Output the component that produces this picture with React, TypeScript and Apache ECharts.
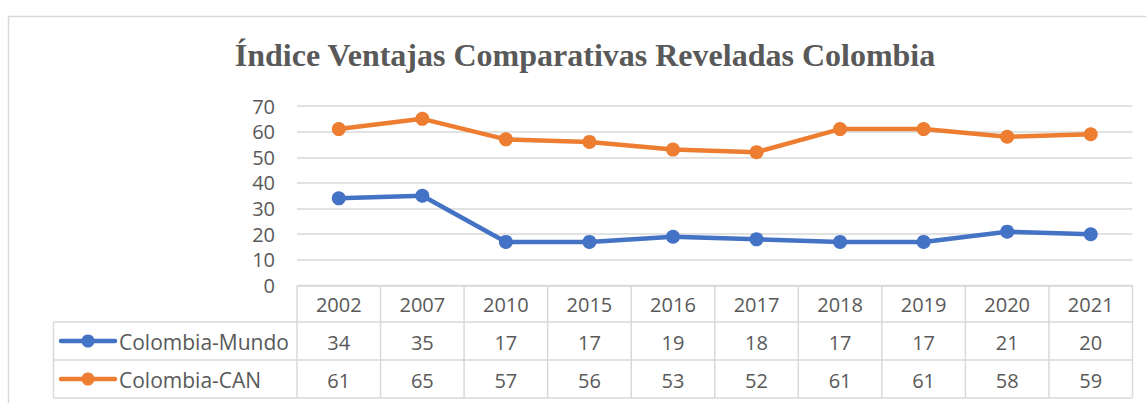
import React, { useEffect, useRef } from "react";
import * as echarts from "echarts";

const years = ["2002", "2007", "2010", "2015", "2016", "2017", "2018", "2019", "2020", "2021"];
const mundo = [34, 35, 17, 17, 19, 18, 17, 17, 21, 20];
const can = [61, 65, 57, 56, 53, 52, 61, 61, 58, 59];
const seriesNames = ["Colombia-Mundo", "Colombia-CAN"];
const seriesColors = ["#4472C4", "#ED7D31"];
const title = "Índice Ventajas Comparativas Reveladas Colombia";

const W = 1146;
const H = 403;
const GRID_L = 297;
const GRID_R = 1132.5;
const GRID_T = 106;
const GRID_B = 285.5;
const ROW_Y = [285.5, 322, 360, 398];
const LEG_L = 53.5;
const TXT = "#595959";
const BORDER = "#D9D9D9";
const FONT = "'Open Sans', 'Noto Sans', sans-serif";
const FS = 20;

function buildTable(): any[] {
  const els: any[] = [];
  const cw = (GRID_R - GRID_L) / years.length;
  els.push({ type: "line", shape: { x1: GRID_L, y1: ROW_Y[0], x2: GRID_R, y2: ROW_Y[0] }, style: { stroke: BORDER, lineWidth: 1.5 } });
  for (let r = 1; r < ROW_Y.length; r++) {
    els.push({ type: "line", shape: { x1: LEG_L, y1: ROW_Y[r], x2: GRID_R, y2: ROW_Y[r] }, style: { stroke: BORDER, lineWidth: 1.5 } });
  }
  els.push({ type: "line", shape: { x1: LEG_L, y1: ROW_Y[1], x2: LEG_L, y2: ROW_Y[3] }, style: { stroke: BORDER, lineWidth: 1.5 } });
  for (let k = 0; k <= years.length; k++) {
    const x = GRID_L + k * cw;
    els.push({ type: "line", shape: { x1: x, y1: ROW_Y[0], x2: x, y2: ROW_Y[3] }, style: { stroke: BORDER, lineWidth: 1.5 } });
  }
  const rows = [years, mundo.map(String), can.map(String)];
  rows.forEach((row, r) => {
    const cy = (ROW_Y[r] + ROW_Y[r + 1]) / 2 + 1;
    row.forEach((v, k) => {
      els.push({
        type: "text",
        x: GRID_L + (k + 0.5) * cw,
        y: cy,
        style: { text: v, fill: TXT, font: `${FS}px ${FONT}`, textAlign: "center", textVerticalAlign: "middle" },
      });
    });
  });
  seriesNames.forEach((name, i) => {
    const cy = (ROW_Y[i + 1] + ROW_Y[i + 2]) / 2;
    els.push({ type: "line", shape: { x1: 61, y1: cy, x2: 115, y2: cy }, style: { stroke: seriesColors[i], lineWidth: 4.5, lineCap: "round" } });
    els.push({ type: "circle", shape: { cx: 88, cy, r: 6.5 }, style: { fill: seriesColors[i] } });
    els.push({
      type: "text",
      x: 119,
      y: cy + 1,
      style: { text: name, fill: TXT, font: `21px ${FONT}`, textAlign: "left", textVerticalAlign: "middle" },
    });
  });
  return els;
}

export default function App() {
  const ref = useRef<HTMLDivElement>(null);
  useEffect(() => {
    if (!ref.current) return;
    const chart = echarts.init(ref.current, null, { renderer: "svg" });
    chart.setOption({
      animation: false,
      backgroundColor: "#ffffff",
      grid: { left: GRID_L, right: W - GRID_R, top: GRID_T, bottom: H - GRID_B, containLabel: false },
      xAxis: {
        type: "category",
        data: years,
        boundaryGap: true,
        axisLine: { show: false },
        axisTick: { show: false },
        axisLabel: { show: false },
      },
      yAxis: {
        type: "value",
        min: 0,
        max: 70,
        interval: 10,
        axisLine: { show: false },
        axisTick: { show: false },
        axisLabel: { color: TXT, fontSize: FS, fontFamily: FONT, margin: 22 },
        splitLine: { lineStyle: { color: BORDER, width: 1.5 } },
      },
      series: [
        {
          name: seriesNames[0],
          type: "line",
          data: mundo,
          symbol: "circle",
          symbolSize: 14,
          itemStyle: { color: seriesColors[0] },
          lineStyle: { color: seriesColors[0], width: 4.5 },
        },
        {
          name: seriesNames[1],
          type: "line",
          data: can,
          symbol: "circle",
          symbolSize: 14,
          itemStyle: { color: seriesColors[1] },
          lineStyle: { color: seriesColors[1], width: 4.5 },
        },
      ],
      graphic: [
        { type: "rect", shape: { x: 8.5, y: 16.5, width: 1160, height: 420 }, style: { fill: "none", stroke: BORDER, lineWidth: 1.5 }, silent: true, z: -1 },
        {
          type: "text",
          x: 585,
          y: 55,
          style: {
            text: title,
            fill: TXT,
            font: `bold 32px 'Liberation Serif', 'Times New Roman', serif`,
            textAlign: "center",
            textVerticalAlign: "middle",
          },
        },
        ...buildTable(),
      ],
    });
    return () => chart.dispose();
  }, []);
  return <div ref={ref} style={{ position: "fixed", left: 0, top: 0, width: W, height: H }} />;
}
